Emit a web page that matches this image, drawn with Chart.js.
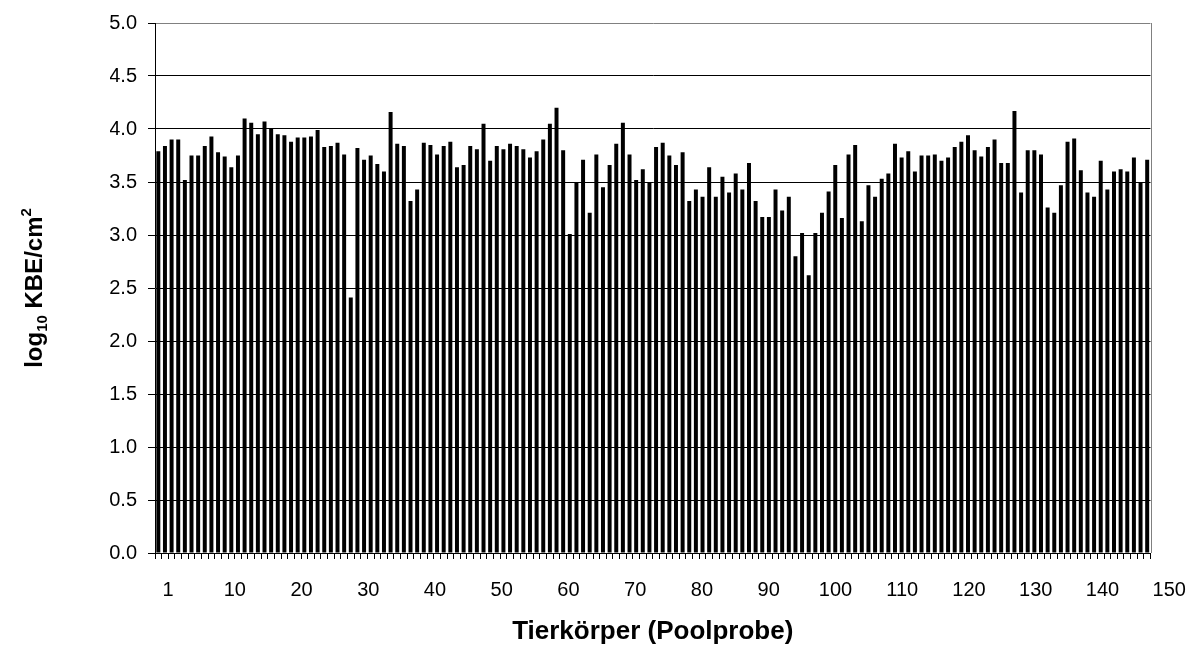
<!DOCTYPE html>
<html>
<head>
<meta charset="utf-8">
<script src="https://cdn.jsdelivr.net/npm/chart.js@4.4.1/dist/chart.umd.min.js"></script>
<style>
  html, body { margin: 0; padding: 0; background: #fff; }
  #wrap { width: 1199px; height: 649px; }
</style>
</head>
<body>
<div id="wrap"><canvas id="chart" width="1199" height="649"></canvas></div>
<script>
// Pooled carcass samples, one bar per sample (log10 colony-forming units per cm²)
const sampleIds = [
  '1','2','3','4','5','6','7','8','9','10','11','12','13','14','15','16','17','18','19','20',
  '21','22','23','24','25','26','27','28','29','30','31','32','33','34','35','36','37','38','39','40',
  '41','42','43','44','45','46','47','48','49','50','51','52','53','54','55','56','57','58','59','60',
  '61','62','63','64','65','66','67','68','69','70','71','72','73','74','75','76','77','78','79','80',
  '81','82','83','84','85','86','87','88','89','90','91','92','93','94','95','96','97','98','99','100',
  '101','102','103','104','105','106','107','108','109','110','111','112','113','114','115','116','117','118','119','120',
  '121','122','123','124','125','126','127','128','129','130','131','132','133','134','135','136','137','138','139','140',
  '141','142','143','144','145','146','147','148','149','150'
];

const logCounts = [
  3.79, 3.84, 3.90, 3.90, 3.52, 3.75, 3.75, 3.84, 3.93, 3.78,
  3.74, 3.64, 3.75, 4.10, 4.06, 3.95, 4.07, 4.00, 3.95, 3.94,
  3.88, 3.92, 3.92, 3.93, 3.99, 3.83, 3.84, 3.87, 3.76, 2.41,
  3.82, 3.71, 3.75, 3.67, 3.60, 4.16, 3.86, 3.84, 3.32, 3.43,
  3.87, 3.85, 3.76, 3.84, 3.88, 3.64, 3.66, 3.84, 3.81, 4.05,
  3.70, 3.84, 3.81, 3.86, 3.84, 3.81, 3.73, 3.79, 3.90, 4.05,
  4.20, 3.80, 3.01, 3.50, 3.71, 3.21, 3.76, 3.45, 3.66, 3.86,
  4.06, 3.76, 3.52, 3.62, 3.50, 3.83, 3.87, 3.75, 3.66, 3.78,
  3.32, 3.43, 3.36, 3.64, 3.36, 3.55, 3.40, 3.58, 3.43, 3.68,
  3.32, 3.17, 3.17, 3.43, 3.23, 3.36, 2.80, 3.02, 2.62, 3.02,
  3.21, 3.41, 3.66, 3.16, 3.76, 3.85, 3.13, 3.47, 3.36, 3.53,
  3.58, 3.86, 3.73, 3.79, 3.60, 3.75, 3.75, 3.76, 3.70, 3.73,
  3.83, 3.88, 3.94, 3.80, 3.74, 3.83, 3.90, 3.68, 3.68, 4.17,
  3.40, 3.80, 3.80, 3.76, 3.26, 3.21, 3.47, 3.88, 3.91, 3.61,
  3.40, 3.36, 3.70, 3.43, 3.60, 3.62, 3.60, 3.73, 3.50, 3.71
];

// Labels printed under the category axis, evenly spaced
const axisTickLabels = ['1','10','20','30','40','50','60','70','80','90','100','110','120','130','140','150'];

const xTitle = 'Tierkörper (Poolprobe)';
const yTitleParts = ['log', '10', ' KBE/cm', '2'];

const FONT = "'Liberation Sans', Arial, Helvetica, sans-serif";
Chart.defaults.font.family = FONT;
Chart.defaults.color = '#000';

// Axis titles (with sub/superscript) and the grey frame on the right side
const frameAndTitles = {
  id: 'frameAndTitles',
  afterDraw(chart) {
    const { ctx, chartArea: a } = chart;
    ctx.save();
    ctx.strokeStyle = '#808080';
    ctx.lineWidth = 1;
    ctx.beginPath();
    const rx = Math.round(a.right) + 0.5;
    ctx.moveTo(rx, a.top);
    ctx.lineTo(rx, a.bottom);
    ctx.stroke();

    ctx.fillStyle = '#000';
    ctx.font = `bold 26px ${FONT}`;
    ctx.textAlign = 'center';
    ctx.textBaseline = 'alphabetic';
    ctx.fillText(xTitle, (a.left + a.right) / 2, 639);

    const runs = [
      { t: yTitleParts[0], size: 24, dy: 0 },
      { t: yTitleParts[1], size: 15, dy: 5 },
      { t: yTitleParts[2], size: 24, dy: 0 },
      { t: yTitleParts[3], size: 15, dy: -11 }
    ];
    let total = 0;
    runs.forEach(r => { ctx.font = `bold ${r.size}px ${FONT}`; r.w = ctx.measureText(r.t).width; total += r.w; });
    ctx.translate(42, (a.top + a.bottom) / 2);
    ctx.rotate(-Math.PI / 2);
    ctx.textAlign = 'left';
    let x = -total / 2;
    runs.forEach(r => {
      ctx.font = `bold ${r.size}px ${FONT}`;
      ctx.fillText(r.t, x, r.dy);
      x += r.w;
    });
    ctx.restore();
  }
};

new Chart(document.getElementById('chart'), {
  type: 'bar',
  data: {
    labels: sampleIds,
    datasets: [{
      data: logCounts,
      backgroundColor: '#000',
      borderWidth: 0,
      barPercentage: 0.6,
      categoryPercentage: 1.0,
      xAxisID: 'x',
      yAxisID: 'y'
    }]
  },
  options: {
    responsive: false,
    animation: false,
    devicePixelRatio: 1,
    layout: { padding: { left: 110, right: 48.5, top: 16.5, bottom: 48 } },
    plugins: { legend: { display: false }, tooltip: { enabled: false } },
    scales: {
      y: {
        type: 'linear',
        position: 'left',
        min: 0,
        max: 5,
        afterFit: s => { s.width = 45; },
        ticks: {
          stepSize: 0.5,
          padding: 11,
          color: '#000',
          font: { size: 20 },
          callback: v => Number(v).toFixed(1)
        },
        grid: {
          color: c => (c.tick && c.tick.value === 5 ? '#808080' : '#000'),
          tickColor: '#000',
          tickLength: 7,
          lineWidth: 1
        },
        border: { color: '#000', width: 1 }
      },
      x: {
        type: 'category',
        position: 'bottom',
        weight: 0,
        offset: true,
        afterFit: s => { s.height = 8; },
        ticks: { display: false, autoSkip: false },
        grid: { offset: true, drawOnChartArea: false, tickLength: 6, color: '#000', lineWidth: 1 },
        border: { color: '#000', width: 1 }
      },
      xl: {
        type: 'linear',
        position: 'bottom',
        weight: 1,
        offset: false,
        min: -1.95,
        max: 147.2,
        afterBuildTicks: s => { s.ticks = axisTickLabels.map((_, i) => ({ value: i * 10 })); },
        afterFit: s => { s.height = 40; s.paddingLeft = 0; s.paddingRight = 0; },
        grid: { display: false, drawTicks: false, offset: false },
        border: { display: false },
        ticks: {
          autoSkip: false,
          maxRotation: 0,
          padding: 17,
          color: '#000',
          font: { size: 20 },
          callback: (v, i) => axisTickLabels[i]
        }
      }
    }
  },
  plugins: [frameAndTitles]
});
</script>
</body>
</html>
